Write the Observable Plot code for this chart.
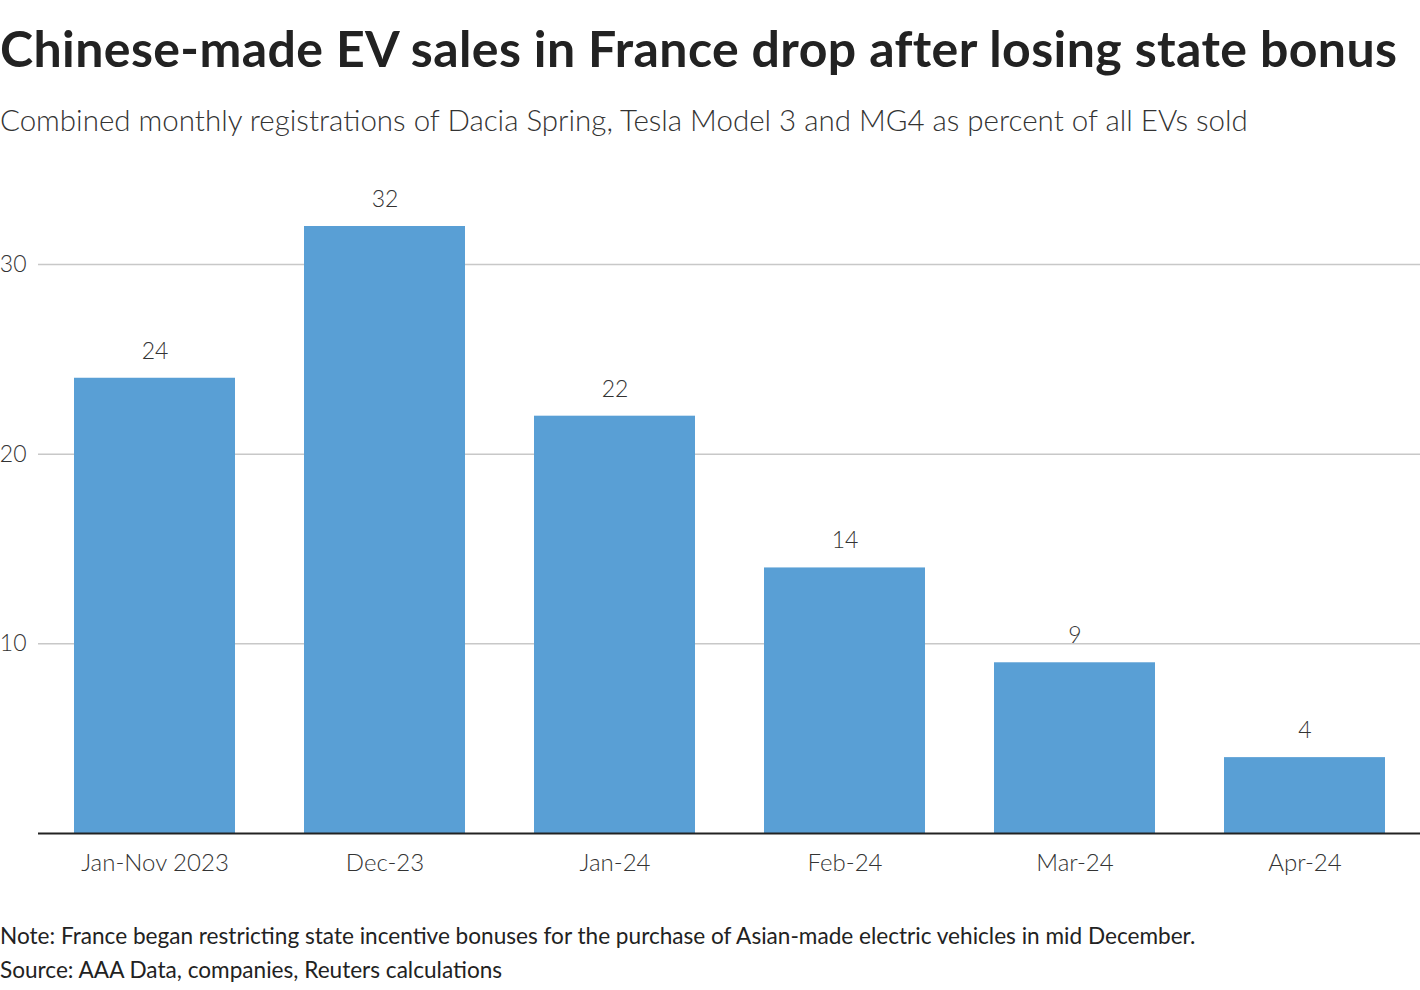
<!DOCTYPE html>
<html>
<head>
<meta charset="utf-8">
<script src="https://cdn.jsdelivr.net/npm/d3@7"></script>
<script src="https://cdn.jsdelivr.net/npm/@observablehq/plot@0.6"></script>
<style>
  body { margin: 0; background: #fff; font-family: Lato, "Noto Sans", sans-serif; color: #222; }
  #title { position: absolute; left: 0; top: 18px; font-size: 50px; font-weight: 700; letter-spacing: 0.4px; white-space: nowrap; }
  #subtitle { position: absolute; left: 0; top: 102px; font-size: 29.5px; font-weight: 300; color: #333; white-space: nowrap; }
  #chart { position: absolute; left: 0; top: 170px; }
  #note { position: absolute; left: 0; top: 919px; font-size: 22.6px; color: #222; line-height: 34px; white-space: nowrap; }
</style>
</head>
<body>
<div id="title">Chinese-made EV sales in France drop after losing state bonus</div>
<div id="subtitle">Combined monthly registrations of Dacia Spring, Tesla Model 3 and MG4 as percent of all EVs sold</div>
<div id="chart"></div>
<div id="note">Note: France began restricting state incentive bonuses for the purchase of Asian-made electric vehicles in mid December.<br>Source: AAA Data, companies, Reuters calculations</div>
<script>
const categories = ["Jan-Nov 2023", "Dec-23", "Jan-24", "Feb-24", "Mar-24", "Apr-24"];
const values = [24, 32, 22, 14, 9, 4];
const yTicks = [10, 20, 30];

const data = categories.map((c, i) => ({category: c, value: values[i]}));

const chart = Plot.plot({
  width: 1420,
  height: 730,
  marginLeft: 38,
  marginRight: 0,
  marginTop: 56,
  marginBottom: 67,
  style: {fontFamily: "Lato, 'Noto Sans', sans-serif", fontSize: "22px", color: "#333", background: "transparent"},
  x: {domain: categories, paddingInner: 0.3, paddingOuter: 0.15, label: null},
  y: {domain: [0, 32], label: null},
  marks: [
    Plot.gridY(yTicks, {stroke: "#c8c8c8", strokeOpacity: 1, strokeWidth: 1.5}),
    Plot.axisY(yTicks, {tickSize: 0, tickPadding: 12, textAnchor: "end", fontWeight: 300, fill: "#333", fontSize: 23}),
    Plot.axisX({tickSize: 0, tickPadding: 20, fontWeight: 300, fill: "#333", fontSize: 24}),
    Plot.barY(data, {x: "category", y: "value", fill: "#599fd5"}),
    Plot.text(data, {x: "category", y: "value", text: d => String(d.value), dy: -27, fontWeight: 300, fill: "#333", fontSize: 23}),
    Plot.ruleY([0], {stroke: "#222", strokeWidth: 2})
  ]
});
document.getElementById("chart").appendChild(chart);
</script>
</body>
</html>
